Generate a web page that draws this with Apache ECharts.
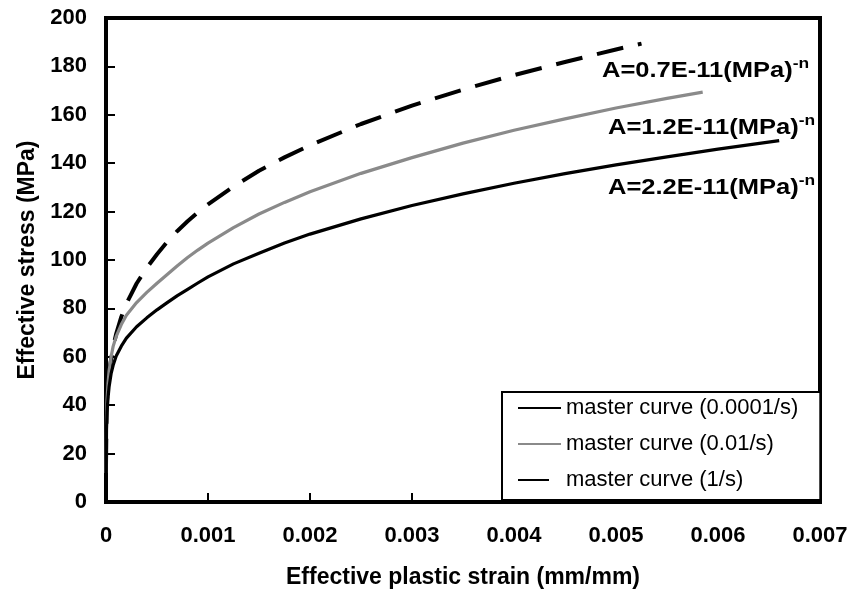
<!DOCTYPE html>
<html>
<head>
<meta charset="utf-8">
<script src="https://cdn.jsdelivr.net/npm/echarts@6/dist/echarts.min.js"></script>
<style>
  html, body { margin: 0; padding: 0; background: #fff; }
  #chart { width: 855px; height: 597px; }
</style>
</head>
<body>
<div id="chart"></div>
<script>
// Master curves: effective stress (MPa) vs effective plastic strain (mm/mm)
const seriesNames = ['master curve (0.0001/s)', 'master curve (0.01/s)', 'master curve (1/s)'];

const strainSlow = [0, 0.000005, 0.00001, 0.00002, 0.00003, 0.00005, 0.00007, 0.0001, 0.00015, 0.0002,
  0.0003, 0.0004, 0.0005, 0.0006, 0.0007, 0.0008, 0.0009, 0.001, 0.00125, 0.0015, 0.00175,
  0.002, 0.0025, 0.003, 0.0035, 0.004, 0.0045, 0.005, 0.0055, 0.006, 0.0066];
const stressSlow = [0, 30, 37, 43, 47.5, 53, 56.5, 60.3, 64.4, 67.7,
  72.4, 76.1, 79.4, 82.4, 85.3, 87.9, 90.5, 93, 98.4, 102.8, 107,
  110.7, 117, 122.5, 127.3, 131.7, 135.7, 139.3, 142.6, 145.8, 149.3];

const strainMid = [0, 0.000005, 0.00001, 0.00002, 0.00003, 0.00005, 0.00007, 0.0001, 0.00015, 0.0002,
  0.0003, 0.0004, 0.0005, 0.0006, 0.0007, 0.0008, 0.0009, 0.001, 0.00125, 0.0015, 0.00175,
  0.002, 0.0025, 0.003, 0.0035, 0.004, 0.0045, 0.005, 0.0055, 0.00585];
const stressMid = [12, 35, 42, 49, 54, 60, 64.3, 68.4, 73.3, 77.2,
  82.4, 86.6, 90.4, 94, 97.6, 101, 104.1, 107, 113.4, 119, 123.8,
  128.2, 135.8, 142.3, 148.3, 153.6, 158.3, 162.8, 166.8, 169.4];

const strainFast = [0, 0.000005, 0.00001, 0.00002, 0.00003, 0.00005, 0.00007, 0.0001, 0.00015, 0.0002,
  0.0003, 0.0004, 0.0005, 0.0006, 0.0007, 0.0008, 0.0009, 0.001, 0.00125, 0.0015, 0.00175,
  0.002, 0.0025, 0.003, 0.0035, 0.004, 0.0045, 0.005, 0.00525];
const stressFast = [15, 35, 42, 49, 54, 59, 64, 69.5, 76.5, 82,
  90.3, 96.8, 102.4, 107.5, 112, 116, 119.7, 123, 130.4, 136.9, 142.4,
  147.4, 156.2, 163.8, 170.4, 176.4, 181.8, 187, 189.4];

const xTicks = { min: 0, max: 0.007, step: 0.001 };
const yTicks = { min: 0, max: 200, step: 20 };

const annotationLabels = ['A=0.7E-11(MPa)', 'A=1.2E-11(MPa)', 'A=2.2E-11(MPa)'];
const annotationExponent = '-n';

const FONT = '"Liberation Sans", Arial, Helvetica, sans-serif';

function pairs(xs, ys) { return xs.map((x, i) => [x, ys[i]]); }

const chart = echarts.init(document.getElementById('chart'), null, { renderer: 'canvas' });

// annotation placement (pixels): left edge and vertical centre
const annotationPos = [[602, 71], [608, 128], [608, 188]];

const graphic = annotationLabels.map((t, i) => ({
  type: 'text',
  x: annotationPos[i][0],
  y: annotationPos[i][1],
  scaleX: 1.16,
  z: 100,
  style: {
    text: '{m|' + t + '}{s|' + annotationExponent + '}',
    align: 'left',
    verticalAlign: 'middle',
    textAlign: 'left',
    textVerticalAlign: 'middle',
    rich: {
      m: { fontSize: 22, fontWeight: 'bold', fontFamily: FONT, fill: '#000', lineHeight: 30 },
      s: { fontSize: 15, fontWeight: 'bold', fontFamily: FONT, fill: '#000', verticalAlign: 'top', lineHeight: 17 }
    }
  }
}));

const axisTitleStyle = { fontFamily: FONT, fontSize: 23, fontWeight: 'bold', color: '#000' };
const tickLabelStyle = { fontFamily: FONT, fontSize: 22, fontWeight: 'bold', color: '#000' };

const option = {
  backgroundColor: '#fff',
  animation: false,
  grid: {
    left: 106, right: 35, top: 18, bottom: 95,
    show: true, borderColor: '#000', borderWidth: 4, backgroundColor: 'transparent'
  },
  xAxis: {
    type: 'value',
    min: xTicks.min, max: xTicks.max, interval: xTicks.step,
    name: 'Effective plastic strain (mm/mm)',
    nameLocation: 'middle',
    nameGap: 64,
    nameTextStyle: axisTitleStyle,
    axisLine: { show: true, onZero: false, lineStyle: { color: '#000', width: 4 } },
    axisTick: { show: true, inside: true, length: 9, lineStyle: { color: '#000', width: 2 } },
    axisLabel: Object.assign({
      margin: 23,
      formatter: v => (v === 0 ? '0' : v.toFixed(3))
    }, tickLabelStyle),
    splitLine: { show: false }
  },
  yAxis: {
    type: 'value',
    min: yTicks.min, max: yTicks.max, interval: yTicks.step,
    name: 'Effective stress (MPa)',
    nameLocation: 'middle',
    nameGap: 67,
    nameTextStyle: axisTitleStyle,
    axisLine: { show: true, onZero: false, lineStyle: { color: '#000', width: 4 } },
    axisTick: { show: true, inside: true, length: 9, lineStyle: { color: '#000', width: 2 } },
    axisLabel: Object.assign({ margin: 19 }, tickLabelStyle),
    splitLine: { show: false }
  },
  legend: {
    data: [
      { name: seriesNames[0] },
      { name: seriesNames[1] },
      { name: seriesNames[2], lineStyle: { type: [31, 20] } }
    ],
    orient: 'vertical',
    left: 502,
    top: 392,
    padding: [5, 22, 9, 15],
    itemGap: 14,
    itemWidth: 43,
    itemHeight: 14,
    backgroundColor: '#fff',
    borderColor: '#000',
    borderWidth: 2,
    borderRadius: 0,
    textStyle: { fontFamily: FONT, fontSize: 22, color: '#000', lineHeight: 22 },
    itemStyle: { opacity: 0 }
  },
  series: [
    {
      name: seriesNames[0], type: 'line', data: pairs(strainSlow, stressSlow),
      showSymbol: false, symbol: 'none', smooth: false,
      lineStyle: { color: '#000', width: 3.2, join: 'round' }, itemStyle: { color: '#000' }, z: 3
    },
    {
      name: seriesNames[1], type: 'line', data: pairs(strainMid, stressMid),
      showSymbol: false, symbol: 'none', smooth: false,
      lineStyle: { color: '#8a8a8a', width: 3.2, join: 'round' }, itemStyle: { color: '#8a8a8a' }, z: 2
    },
    {
      name: seriesNames[2], type: 'line', data: pairs(strainFast, stressFast),
      showSymbol: false, symbol: 'none', smooth: false,
      lineStyle: { color: '#000', width: 4, type: [27, 15] }, itemStyle: { color: '#000' }, z: 1
    }
  ],
  graphic: graphic
};

chart.setOption(option);
</script>
</body>
</html>
